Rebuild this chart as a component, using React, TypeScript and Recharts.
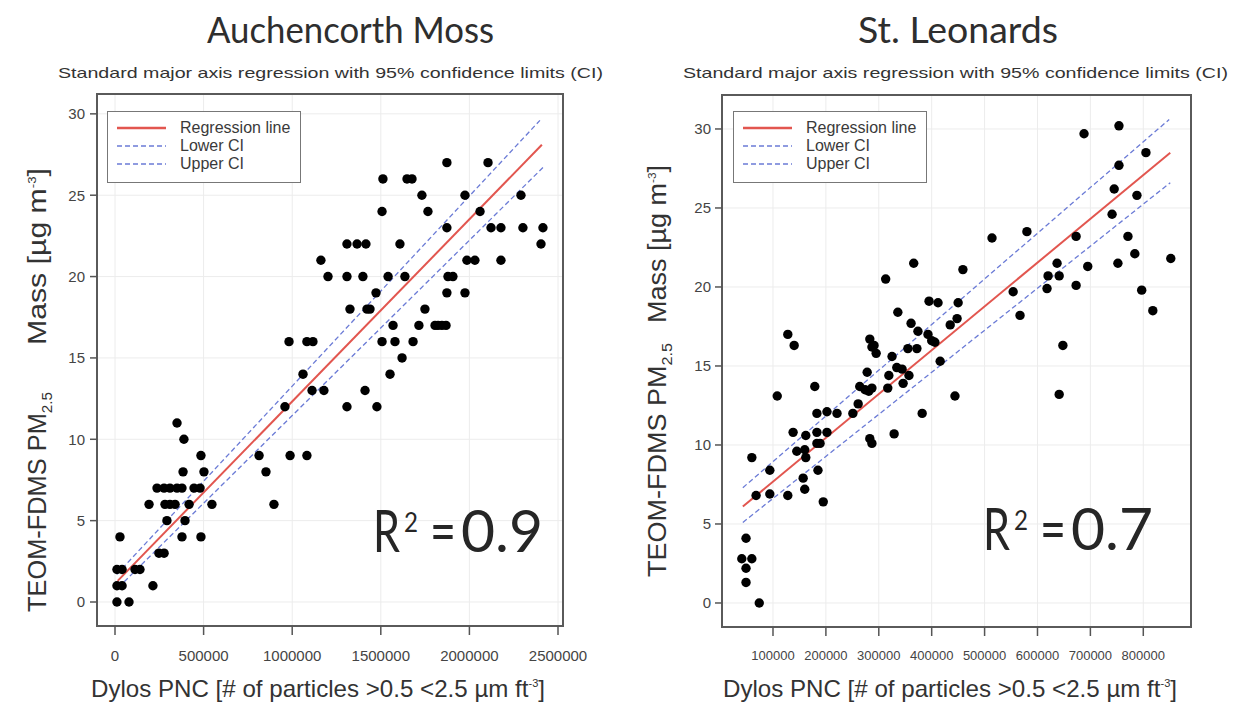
import React from 'react';
import {
  ScatterChart,
  Scatter,
  XAxis,
  YAxis,
  CartesianGrid,
  ReferenceLine,
  ReferenceArea,
  Legend,
} from 'recharts';

// [Dylos PNC, TEOM-FDMS PM2.5 mass]
const auchencorthPoints: [number, number][] = [
  [11000, 0], [79000, 0],
  [11000, 1], [40000, 1], [214000, 1],
  [11000, 2], [40000, 2], [113000, 2], [141000, 2],
  [248000, 3], [277000, 3],
  [28000, 4], [378000, 4], [485000, 4],
  [293000, 5], [395000, 5],
  [192000, 6], [282000, 6], [310000, 6], [339000, 6], [418000, 6], [547000, 6], [897000, 6],
  [237000, 7], [277000, 7], [310000, 7], [350000, 7], [378000, 7], [446000, 7], [480000, 7],
  [384000, 8], [502000, 8], [852000, 8],
  [485000, 9], [813000, 9], [988000, 9], [1083000, 9],
  [389000, 10],
  [350000, 11],
  [959000, 12], [1309000, 12], [1478000, 12],
  [1112000, 13], [1179000, 13], [1411000, 13],
  [1061000, 14], [1552000, 14],
  [1620000, 15],
  [982000, 16], [1083000, 16], [1117000, 16], [1507000, 16], [1580000, 16], [1682000, 16],
  [1569000, 17], [1715000, 17], [1806000, 17], [1823000, 17], [1845000, 17], [1868000, 17],
  [1326000, 18], [1422000, 18], [1439000, 18], [1749000, 18],
  [1473000, 19], [1873000, 19], [1975000, 19],
  [1202000, 20], [1309000, 20], [1399000, 20], [1541000, 20], [1636000, 20], [1879000, 20], [1907000, 20],
  [1162000, 21], [1986000, 21], [2031000, 21], [2178000, 21],
  [1309000, 22], [1366000, 22], [1416000, 22], [1608000, 22], [2404000, 22],
  [1873000, 23], [2122000, 23], [2178000, 23], [2302000, 23], [2415000, 23],
  [1507000, 24], [1766000, 24], [2060000, 24],
  [1732000, 25], [1975000, 25], [2291000, 25],
  [1512000, 26], [1648000, 26], [1676000, 26],
  [1873000, 27], [2105000, 27],
];

const leonardsPoints: [number, number][] = [
  [49000, 4.1], [41000, 2.8], [60000, 2.8], [49000, 2.2], [49000, 1.3], [74000, 0],
  [60000, 9.2], [94000, 8.4], [68000, 6.8], [94000, 6.9], [128000, 6.8], [108000, 13.1],
  [128000, 17.0], [140000, 16.3], [138000, 10.8], [145000, 9.6], [160000, 9.7], [162000, 9.2],
  [157000, 7.9], [160000, 7.2], [162000, 10.6], [179000, 13.7], [183000, 12.0], [202000, 12.1],
  [221000, 12.0], [183000, 10.8], [202000, 10.8], [183000, 10.1], [189000, 10.1], [185000, 8.4],
  [195000, 6.4], [251000, 12.0], [261000, 12.6], [264000, 13.7], [274000, 13.5], [281000, 13.4],
  [287000, 13.6], [278000, 14.6], [283000, 16.7], [291000, 16.3], [295000, 15.8], [287000, 16.2],
  [283000, 10.4], [287000, 10.1], [313000, 20.5], [317000, 13.6], [319000, 14.4], [325000, 15.6],
  [329000, 10.7], [334000, 14.9], [336000, 18.4], [344000, 14.8], [346000, 13.9], [355000, 16.1],
  [357000, 14.4], [361000, 17.7], [366000, 21.5], [372000, 16.1], [374000, 17.2], [382000, 12.0],
  [393000, 17.0], [395000, 19.1], [400000, 16.6], [406000, 16.5], [412000, 19.0], [416000, 15.3],
  [435000, 17.6], [444000, 13.1], [448000, 18.0], [450000, 19.0], [459000, 21.1],
  [514000, 23.1], [554000, 19.7], [567000, 18.2], [580000, 23.5], [618000, 19.9], [620000, 20.7],
  [637000, 21.5], [641000, 20.7], [641000, 13.2], [648000, 16.3], [673000, 23.2], [673000, 20.1],
  [688000, 29.7], [695000, 21.3], [741000, 24.6], [745000, 26.2], [752000, 21.5], [754000, 30.2],
  [754000, 27.7], [771000, 23.2], [784000, 22.1], [788000, 25.8], [797000, 19.8], [805000, 28.5],
  [818000, 18.5], [852000, 21.8],
];

// regression line and 95% CI end points
const auchRegression: [number, number][] = [[15000, 1.3], [2409000, 28.1]];
const auchLowerCI: [number, number][] = [[20000, 0.9], [2415000, 26.7]];
const auchUpperCI: [number, number][] = [[10000, 1.7], [2398000, 29.6]];
const leonRegression: [number, number][] = [[43000, 6.1], [851000, 28.5]];
const leonLowerCI: [number, number][] = [[43000, 5.1], [851000, 26.6]];
const leonUpperCI: [number, number][] = [[43000, 7.3], [849000, 30.6]];

const auchXTicks = [0, 500000, 1000000, 1500000, 2000000, 2500000];
const leonXTicks = [100000, 200000, 300000, 400000, 500000, 600000, 700000, 800000];
const massTicks = [0, 5, 10, 15, 20, 25, 30];

const legendLabels = ['Regression line', 'Lower CI', 'Upper CI'];

const RED = '#e2564f';
const BLUE = '#6b7bd6';
const SANS = '"Liberation Sans", Arial, sans-serif';
const HUMAN = 'Lato, "Open Sans", sans-serif';

const Dot = (p: any) => <circle cx={p.cx} cy={p.cy} r={4.7} fill="#000" />;

function LegendBox() {
  return (
    <div
      style={{
        position: 'relative',
        width: 194,
        height: 72,
        boxSizing: 'border-box',
        border: '1.5px solid #777',
        background: '#fff',
        fontFamily: SANS,
        fontSize: 16,
        color: '#3a3a3a',
      }}
    >
      {legendLabels.map((label, i) => (
        <div key={label} style={{ position: 'absolute', left: 0, top: 7 + i * 18, height: 18, width: 190 }}>
          <svg width={62} height={18} style={{ position: 'absolute', left: 0, top: 0 }}>
            <line
              x1={9}
              x2={58}
              y1={9}
              y2={9}
              stroke={i === 0 ? RED : BLUE}
              strokeWidth={i === 0 ? 2.5 : 1.5}
              strokeDasharray={i === 0 ? undefined : '5 3'}
            />
          </svg>
          <span style={{ position: 'absolute', left: 72, top: 0, lineHeight: '18px' }}>{label}</span>
        </div>
      ))}
    </div>
  );
}

interface PanelProps {
  points: [number, number][];
  reg: [number, number][];
  lower: [number, number][];
  upper: [number, number][];
  xTicks: number[];
  xDomain: [number, number];
  yDomain: [number, number];
  width: number;
  margin: { top: number; right: number; bottom: number; left: number };
  xTickSize: number;
  yTickMargin: number;
  legendPos: { left: number; top: number };
}

function Panel(props: PanelProps) {
  const { points, reg, lower, upper, xTicks, xDomain, yDomain, width, margin, legendPos } = props;
  const data = points.map(([pnc, mass]) => ({ pnc, mass }));
  const seg = (s: [number, number][]) => s.map(([x, y]) => ({ x, y }));
  return (
    <ScatterChart width={width} height={712} margin={margin}>
      <CartesianGrid stroke="#ececec" strokeWidth={1} />
      <XAxis
        type="number"
        dataKey="pnc"
        domain={xDomain}
        ticks={xTicks}
        allowDataOverflow
        interval={0}
        height={30}
        axisLine={false}
        tickLine={{ stroke: '#555', strokeWidth: 1.5 }}
        tickSize={9}
        tickMargin={15}
        tick={{ fontSize: props.xTickSize, fill: '#444', fontFamily: SANS }}
        tickFormatter={(v: number) => String(v)}
      />
      <YAxis
        type="number"
        dataKey="mass"
        domain={yDomain}
        ticks={massTicks}
        allowDataOverflow
        interval={0}
        width={40}
        axisLine={false}
        tickLine={{ stroke: '#555', strokeWidth: 1.5 }}
        tickSize={7}
        tickMargin={props.yTickMargin}
        tick={{ fontSize: 15, fill: '#444', fontFamily: SANS }}
      />
      <ReferenceArea
        x1={xDomain[0]}
        x2={xDomain[1]}
        y1={yDomain[0]}
        y2={yDomain[1]}
        fill="none"
        fillOpacity={0}
        stroke="#5a5a5a"
        strokeWidth={2}
        ifOverflow="visible"
      />
      <Scatter data={data} shape={Dot} isAnimationActive={false} />
      <ReferenceLine segment={seg(upper)} stroke={BLUE} strokeWidth={1.3} strokeDasharray="5 3" />
      <ReferenceLine segment={seg(lower)} stroke={BLUE} strokeWidth={1.3} strokeDasharray="5 3" />
      <ReferenceLine segment={seg(reg)} stroke={RED} strokeWidth={2} />
      <Legend
        layout="horizontal"
        verticalAlign="middle"
        align="center"
        wrapperStyle={{ left: legendPos.left, top: legendPos.top, width: 194, height: 72 }}
        content={() => <LegendBox />}
      />
    </ScatterChart>
  );
}

function Texts() {
  const yLabel = (x: number, bottom: number, len1: number, top2: number, len2: number) => (
    <g>
      <text
        transform={`translate(${x}, ${bottom}) rotate(-90)`}
        fontFamily={SANS}
        fontSize={25}
        fill="#333"
        textLength={len1}
        lengthAdjust="spacingAndGlyphs"
      >
        TEOM-FDMS PM
        <tspan fontSize={15} dy={6}>2.5</tspan>
      </text>
      <text
        transform={`translate(${x}, ${top2}) rotate(-90)`}
        fontFamily={SANS}
        fontSize={25}
        fill="#333"
        textLength={len2}
        lengthAdjust="spacingAndGlyphs"
      >
        Mass [µg m
        <tspan fontSize={11} dy={-10}>-3</tspan>
        <tspan dy={10}>]</tspan>
      </text>
    </g>
  );
  const xLabel = (x: number) => (
    <text x={x} y={697} fontFamily={SANS} fontSize={24} fill="#333" textLength={454} lengthAdjust="spacingAndGlyphs">
      Dylos PNC [# of particles &gt;0.5 &lt;2.5 µm ft
      <tspan fontSize={11} dy={-10}>-3</tspan>
      <tspan dy={10}>]</tspan>
    </text>
  );
  // R² annotation, pieces laid side by side
  const r2 = (x: number, y: number, v: string) => (
    <g fontFamily={HUMAN} fill="#262626">
      <text x={x} y={y} fontSize={46} textLength={27} lengthAdjust="spacingAndGlyphs" transform={`translate(0, ${y * -0.26}) scale(1, 1.26)`}>R</text>
      <text x={x + 31} y={y - 20} fontSize={26} textLength={14} lengthAdjust="spacingAndGlyphs">2</text>
      <text x={x + 57} y={y} fontSize={58} textLength={26} lengthAdjust="spacingAndGlyphs">=</text>
      <text x={x + 88} y={y} fontSize={58} textLength={82} lengthAdjust="spacingAndGlyphs">{v}</text>
    </g>
  );
  const sub = 'Standard major axis regression with 95% confidence limits (CI)';
  return (
    <svg width={1241} height={712} style={{ position: 'absolute', left: 0, top: 0, pointerEvents: 'none' }}>
      <text x={207} y={43} fontFamily={HUMAN} fontSize={36} fill="#2e2e2e" textLength={287} lengthAdjust="spacingAndGlyphs">
        Auchencorth Moss
      </text>
      <text x={858} y={43} fontFamily={HUMAN} fontSize={36} fill="#2e2e2e" textLength={200} lengthAdjust="spacingAndGlyphs">
        St. Leonards
      </text>
      <text x={58} y={78} fontFamily={SANS} fontSize={15} fill="#333" textLength={545} lengthAdjust="spacingAndGlyphs">
        {sub}
      </text>
      <text x={683} y={78} fontFamily={SANS} fontSize={15} fill="#333" textLength={545} lengthAdjust="spacingAndGlyphs">
        {sub}
      </text>
      {yLabel(46, 612, 220, 345, 177)}
      {yLabel(666, 577, 234, 323, 158)}
      {xLabel(91)}
      {xLabel(723)}
      {r2(373, 552, '0.9')}
      {r2(983, 550, '0.7')}
    </svg>
  );
}

export default function App() {
  return (
    <div
      style={{
        position: 'fixed',
        left: 0,
        top: 0,
        width: 1241,
        height: 712,
        background: '#fff',
        fontFamily: SANS,
        overflow: 'hidden',
      }}
    >
      <div style={{ position: 'absolute', left: 0, top: 0 }}>
        <Panel
          points={auchencorthPoints}
          reg={auchRegression}
          lower={auchLowerCI}
          upper={auchUpperCI}
          xTicks={auchXTicks}
          xDomain={[-101600, 2528200]}
          yDomain={[-1.475, 31.22]}
          width={620}
          margin={{ top: 94, right: 57, bottom: 56, left: 57 }}
          xTickSize={15}
          yTickMargin={5}
          legendPos={{ left: 107, top: 111 }}
        />
      </div>
      <div style={{ position: 'absolute', left: 620, top: 0 }}>
        <Panel
          points={leonardsPoints}
          reg={leonRegression}
          lower={leonLowerCI}
          upper={leonUpperCI}
          xTicks={leonXTicks}
          xDomain={[3600, 890200]}
          yDomain={[-1.52, 32.15]}
          width={621}
          margin={{ top: 95, right: 50, bottom: 55, left: 62 }}
          xTickSize={13}
          yTickMargin={4}
          legendPos={{ left: 113, top: 111 }}
        />
      </div>
      <Texts />
    </div>
  );
}
